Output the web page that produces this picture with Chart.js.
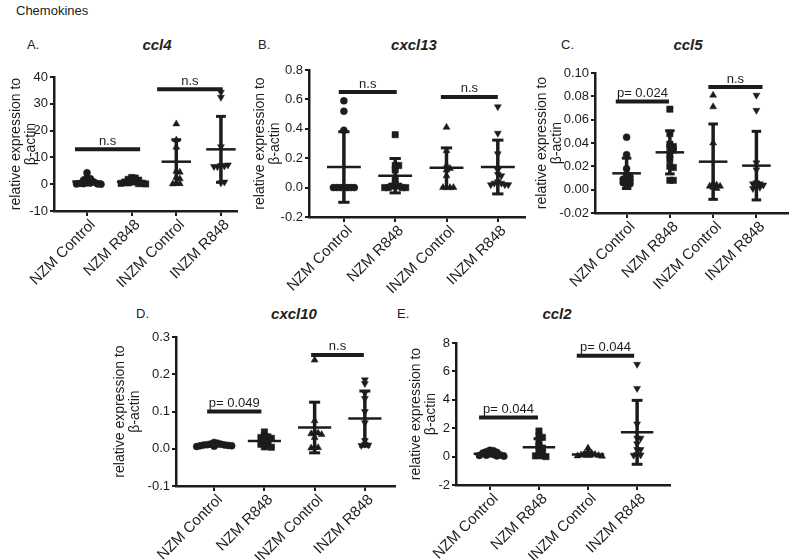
<!DOCTYPE html>
<html>
<head>
<meta charset="utf-8">
<script src="https://cdn.jsdelivr.net/npm/chart.js@4.4.1/dist/chart.umd.min.js"></script>
<style>
  body { margin: 0; background: #fff; width: 793px; height: 560px; position: relative; overflow: hidden;
         font-family: 'Liberation Sans', Arial, sans-serif; color: #222; }
  canvas { position: absolute; }
  .lbl { position: absolute; font-size: 13px; line-height: 13px; white-space: nowrap; }
  .ttl { font-size: 15px; line-height: 15px; font-weight: bold; font-style: italic; transform: translateX(-50%); }
</style>
</head>
<body>
<div class="lbl" style="left:16px;top:4px">Chemokines</div>
<div class="lbl" style="left:27px;top:38px">A.</div>
<div class="lbl ttl" style="left:157px;top:37px">ccl4</div>
<div class="lbl" style="left:258px;top:38px">B.</div>
<div class="lbl ttl" style="left:414px;top:37px">cxcl13</div>
<div class="lbl" style="left:561px;top:38px">C.</div>
<div class="lbl ttl" style="left:688px;top:37px">ccl5</div>
<div class="lbl" style="left:136px;top:307px">D.</div>
<div class="lbl ttl" style="left:294px;top:306px">cxcl10</div>
<div class="lbl" style="left:397px;top:307px">E.</div>
<div class="lbl ttl" style="left:557px;top:306px">ccl2</div>

<script>
// groups on every panel
const groups = ['NZM Control', 'NZM R848', 'INZM Control', 'INZM R848'];

// ccl4
const ccl4Ticks = [-10, 0, 10, 20, 30, 40];
const ccl4Values = [
  [4.3, 2.5, 2.0, 1.5, 1.0, 0.8, 0.5, 0.3, 0.2, 0.1, 0.1, 0.0],
  [2.5, 2.3, 1.8, 1.5, 1.2, 1.0, 0.8, 0.5, 0.4, 0.3, 0.2, 0.1],
  [22.5, 16.5, 13.8, 4.8, 4.5, 2.5, 2.0, 0.3, 0.2, 0.1],
  [34.3, 32.4, 14.0, 7.0, 6.8, 6.5, 7.2, 6.6, 0.5, 0.8]
];
const ccl4Mean = [1.0, 0.9, 8.4, 13.0];
const ccl4Sd = [1.3, 0.8, 8.2, 12.3];
const ccl4Sig = [
  { x1: -0.27, x2: 1.19, y: 13, text: 'n.s' },
  { x1: 1.57, x2: 3.04, y: 35.4, text: 'n.s' }
];

// cxcl13
const cxcl13Ticks = [-0.2, 0, 0.2, 0.4, 0.6, 0.8];
const cxcl13Values = [
  [0.59, 0.52, 0.39, 0, 0, 0, 0, 0, 0, 0],
  [0.36, 0.15, 0.15, 0.12, 0.05, 0.02, 0.01, 0.01, 0, 0, 0, 0],
  [0.41, 0.25, 0.15, 0.13, 0.12, 0.08, 0, 0, 0, 0],
  [0.55, 0.37, 0.23, 0.12, 0.09, 0.08, 0.04, 0.03, 0.03, 0.02, 0.02, 0.02]
];
const cxcl13Mean = [0.14, 0.081, 0.135, 0.14];
const cxcl13Sd = [0.24, 0.117, 0.135, 0.183];
const cxcl13Sig = [
  { x1: -0.1, x2: 1.03, y: 0.65, text: 'n.s' },
  { x1: 1.89, x2: 3.0, y: 0.617, text: 'n.s' }
];

// ccl5
const ccl5Ticks = [-0.02, 0, 0.02, 0.04, 0.06, 0.08, 0.10];
const ccl5Values = [
  [0.045, 0.030, 0.018, 0.013, 0.011, 0.010, 0.009, 0.008, 0.007, 0.006, 0.005, 0.004],
  [0.069, 0.048, 0.039, 0.037, 0.036, 0.034, 0.030, 0.026, 0.020, 0.019, 0.008, 0.008],
  [0.081, 0.071, 0.040, 0.005, 0.004, 0.003, 0.003, 0.002, 0.001],
  [0.081, 0.068, 0.023, 0.017, 0.006, 0.005, 0.005, 0.004, 0.003, 0.002, 0.001]
];
const ccl5Mean = [0.014, 0.032, 0.024, 0.0206];
const ccl5Sd = [0.013, 0.0185, 0.0323, 0.0294];
const ccl5Sig = [
  { x1: -0.25, x2: 0.98, y: 0.0755, text: 'p= 0.024' },
  { x1: 1.89, x2: 3.14, y: 0.088, text: 'n.s' }
];

// cxcl10
const cxcl10Ticks = [-0.1, 0, 0.1, 0.2, 0.3];
const cxcl10Values = [
  [0.017, 0.015, 0.013, 0.012, 0.011, 0.010, 0.010, 0.009, 0.008, 0.008, 0.007, 0.006],
  [0.045, 0.035, 0.032, 0.030, 0.028, 0.025, 0.018, 0.015, 0.012, 0.008, 0.005, 0.004],
  [0.238, 0.075, 0.045, 0.042, 0.040, 0.038, 0.030, 0.005, 0.003, 0.002],
  [0.185, 0.175, 0.150, 0.135, 0.100, 0.070, 0.022, 0.012, 0.010, 0.009]
];
const cxcl10Mean = [0.010, 0.021, 0.057, 0.081];
const cxcl10Sd = [0.003, 0.012, 0.068, 0.074];
const cxcl10Sig = [
  { x1: -0.14, x2: 0.94, y: 0.10, text: 'p= 0.049' },
  { x1: 1.93, x2: 2.98, y: 0.252, text: 'n.s' }
];

// ccl2
const ccl2Ticks = [-2, 0, 2, 4, 6, 8];
const ccl2Values = [
  [0.45, 0.42, 0.35, 0.30, 0.25, 0.20, 0.15, 0.12, 0.10, 0.08, 0.05, 0.03],
  [1.80, 1.45, 1.35, 1.00, 0.75, 0.60, 0.45, 0.30, 0.10, 0.05, 0.05, 0.00],
  [0.60, 0.35, 0.25, 0.20, 0.15, 0.12, 0.10, 0.08, 0.05, 0.03],
  [6.5, 4.8, 2.3, 1.3, 1.3, 0.9, 0.5, 0.5, 0.15, 0.12, 0.10]
];
const ccl2Mean = [0.2, 0.66, 0.15, 1.71];
const ccl2Sd = [0.12, 0.6, 0.12, 2.25];
const ccl2Sig = [
  { x1: -0.22, x2: 0.98, y: 2.75, text: 'p= 0.044' },
  { x1: 1.77, x2: 2.94, y: 7.1, text: 'p= 0.044' }
];

const ink = '#1c1c1c';
const FONT = "'Liberation Sans', Arial, sans-serif";
const markers = [
  { style: 'circle', r: 3.5, rot: 0 },
  { style: 'rect', r: 4.5, rot: 0 },
  { style: 'triangle', r: 4, rot: 0 },
  { style: 'triangle', r: 4, rot: 180 }
];

// panel placement (page pixels): axis box L/T/R/B, canvas box cx/cy/cw/ch
const panels = [
  { values: ccl4Values, mean: ccl4Mean, sd: ccl4Sd, sig: ccl4Sig, ticks: ccl4Ticks, dec: 0,
    L: 54, T: 77, R: 237, B: 211, cx: 8, cy: 55, cw: 235, ch: 240, xMin: -0.74, xMax: 3.36, tpad: 0.3 },
  { values: cxcl13Values, mean: cxcl13Mean, sd: cxcl13Sd, sig: cxcl13Sig, ticks: cxcl13Ticks, dec: 1,
    L: 309, T: 70, R: 525, B: 217, cx: 252, cy: 50, cw: 279, ch: 245, xMin: -0.68, xMax: 3.53, tpad: 0.3 },
  { values: ccl5Values, mean: ccl5Mean, sd: ccl5Sd, sig: ccl5Sig, ticks: ccl5Ticks, dec: 2,
    L: 595, T: 73, R: 790, B: 213, cx: 534, cy: 50, cw: 259, ch: 245, xMin: -0.73, xMax: 3.73, tpad: 0.3 },
  { values: cxcl10Values, mean: cxcl10Mean, sd: cxcl10Sd, sig: cxcl10Sig, ticks: cxcl10Ticks, dec: 1,
    L: 176, T: 337, R: 395, B: 486, cx: 112, cy: 320, cw: 289, ch: 240, xMin: -0.76, xMax: 3.6, tpad: 0.3 },
  { values: ccl2Values, mean: ccl2Mean, sd: ccl2Sd, sig: ccl2Sig, ticks: ccl2Ticks, dec: 0,
    L: 456, T: 343, R: 670, B: 485, cx: 408, cy: 320, cw: 268, ch: 240, xMin: -0.69, xMax: 3.67, tpad: 0.3 }
];

// spread points that sit on top of each other sideways (scatter dot plot)
function swarm(values, kx, ky) {
  const placed = [];
  const dia = 3.4, step = 3.5;
  values.forEach(v => {
    for (let k = 0; k < 60; k++) {
      const off = (k % 2 ? 1 : -1) * Math.ceil(k / 2) * step / kx;
      if (placed.every(q => Math.hypot((q.x - off) * kx, (q.y - v) * ky) >= dia)) {
        placed.push({ x: off, y: v });
        return;
      }
    }
    placed.push({ x: 0, y: v });
  });
  return placed;
}

function makePanel(p) {
  const canvas = document.createElement('canvas');
  canvas.width = p.cw;
  canvas.height = p.ch;
  canvas.style.left = p.cx + 'px';
  canvas.style.top = p.cy + 'px';
  document.body.appendChild(canvas);

  const yMin = p.ticks[0], yMax = p.ticks[p.ticks.length - 1];
  const kx = (p.R - p.L) / (p.xMax - p.xMin);
  const ky = (p.B - p.T) / (yMax - yMin);

  const datasets = p.values.map((vals, g) => ({
    data: swarm(vals, kx, ky).map(pt => ({ x: g + pt.x, y: pt.y })),
    pointStyle: markers[g].style,
    pointRadius: markers[g].r,
    rotation: markers[g].rot,
    backgroundColor: ink,
    borderColor: ink,
    borderWidth: 0.5,
    showLine: false
  }));

  const meanSdPlugin = {
    id: 'meanSd',
    afterDatasetsDraw(chart) {
      const { ctx, scales: { x, y } } = chart;
      ctx.save();
      ctx.strokeStyle = ink;
      p.mean.forEach((m, g) => {
        const xc = x.getPixelForValue(g);
        const yt = y.getPixelForValue(m + p.sd[g]);
        const yb = y.getPixelForValue(m - p.sd[g]);
        ctx.lineWidth = 3.5;
        ctx.beginPath(); ctx.moveTo(xc, yt); ctx.lineTo(xc, yb); ctx.stroke();
        ctx.lineWidth = 3;
        [yt, yb].forEach(yy => {
          ctx.beginPath();
          ctx.moveTo(x.getPixelForValue(g - 0.11), yy);
          ctx.lineTo(x.getPixelForValue(g + 0.11), yy);
          ctx.stroke();
        });
        ctx.lineWidth = 2.5;
        const ym = y.getPixelForValue(m);
        ctx.beginPath();
        ctx.moveTo(x.getPixelForValue(g - 0.33), ym);
        ctx.lineTo(x.getPixelForValue(g + 0.33), ym);
        ctx.stroke();
      });
      ctx.restore();
    },
    afterDraw(chart) {
      const { ctx, scales: { x, y } } = chart;
      ctx.save();
      ctx.strokeStyle = ink;
      ctx.fillStyle = ink;
      ctx.lineWidth = 4;
      ctx.font = '13px ' + FONT;
      ctx.textAlign = 'center';
      ctx.textBaseline = 'alphabetic';
      p.sig.forEach(s => {
        const x1 = x.getPixelForValue(s.x1), x2 = x.getPixelForValue(s.x2);
        const yy = y.getPixelForValue(s.y);
        ctx.beginPath(); ctx.moveTo(x1, yy); ctx.lineTo(x2, yy); ctx.stroke();
        ctx.fillText(s.text, (x1 + x2) / 2, yy - 4.5);
      });
      ctx.restore();
    }
  };

  new Chart(canvas, {
    type: 'scatter',
    data: { datasets },
    options: {
      responsive: false,
      animation: false,
      devicePixelRatio: 1,
      layout: { padding: { top: p.T - p.cy, right: p.cx + p.cw - p.R, left: 0, bottom: 0 } },
      plugins: { legend: { display: false }, tooltip: { enabled: false } },
      scales: {
        x: {
          type: 'linear',
          min: p.xMin,
          max: p.xMax,
          afterBuildTicks: s => { s.ticks = groups.map((_, i) => ({ value: i })); },
          afterFit: s => { s.height = p.cy + p.ch - p.B; },
          ticks: {
            callback: v => groups[v],
            minRotation: 45, maxRotation: 45,
            color: ink, padding: 0, labelOffset: 6,
            font: { family: FONT, size: 15 }
          },
          grid: { drawOnChartArea: false, color: ink, lineWidth: 2, tickLength: 5 },
          border: { color: ink, width: 2.5 }
        },
        y: {
          min: yMin,
          max: yMax,
          afterBuildTicks: s => { s.ticks = p.ticks.map(v => ({ value: v })); },
          afterFit: s => { s.width = p.L - p.cx; },
          ticks: {
            callback: v => v.toFixed(p.dec),
            color: ink, padding: 2,
            font: { family: FONT, size: 13 }
          },
          title: {
            display: true,
            text: ['relative expression to', 'β-actin'],
            color: ink,
            font: { family: FONT, size: 14, lineHeight: 1.1 },
            padding: { top: p.tpad, bottom: 0 }
          },
          grid: { drawOnChartArea: false, color: ink, lineWidth: 2, tickLength: 4 },
          border: { color: ink, width: 2.5 }
        }
      }
    },
    plugins: [meanSdPlugin]
  });
}

panels.forEach(makePanel);
</script>
</body>
</html>
